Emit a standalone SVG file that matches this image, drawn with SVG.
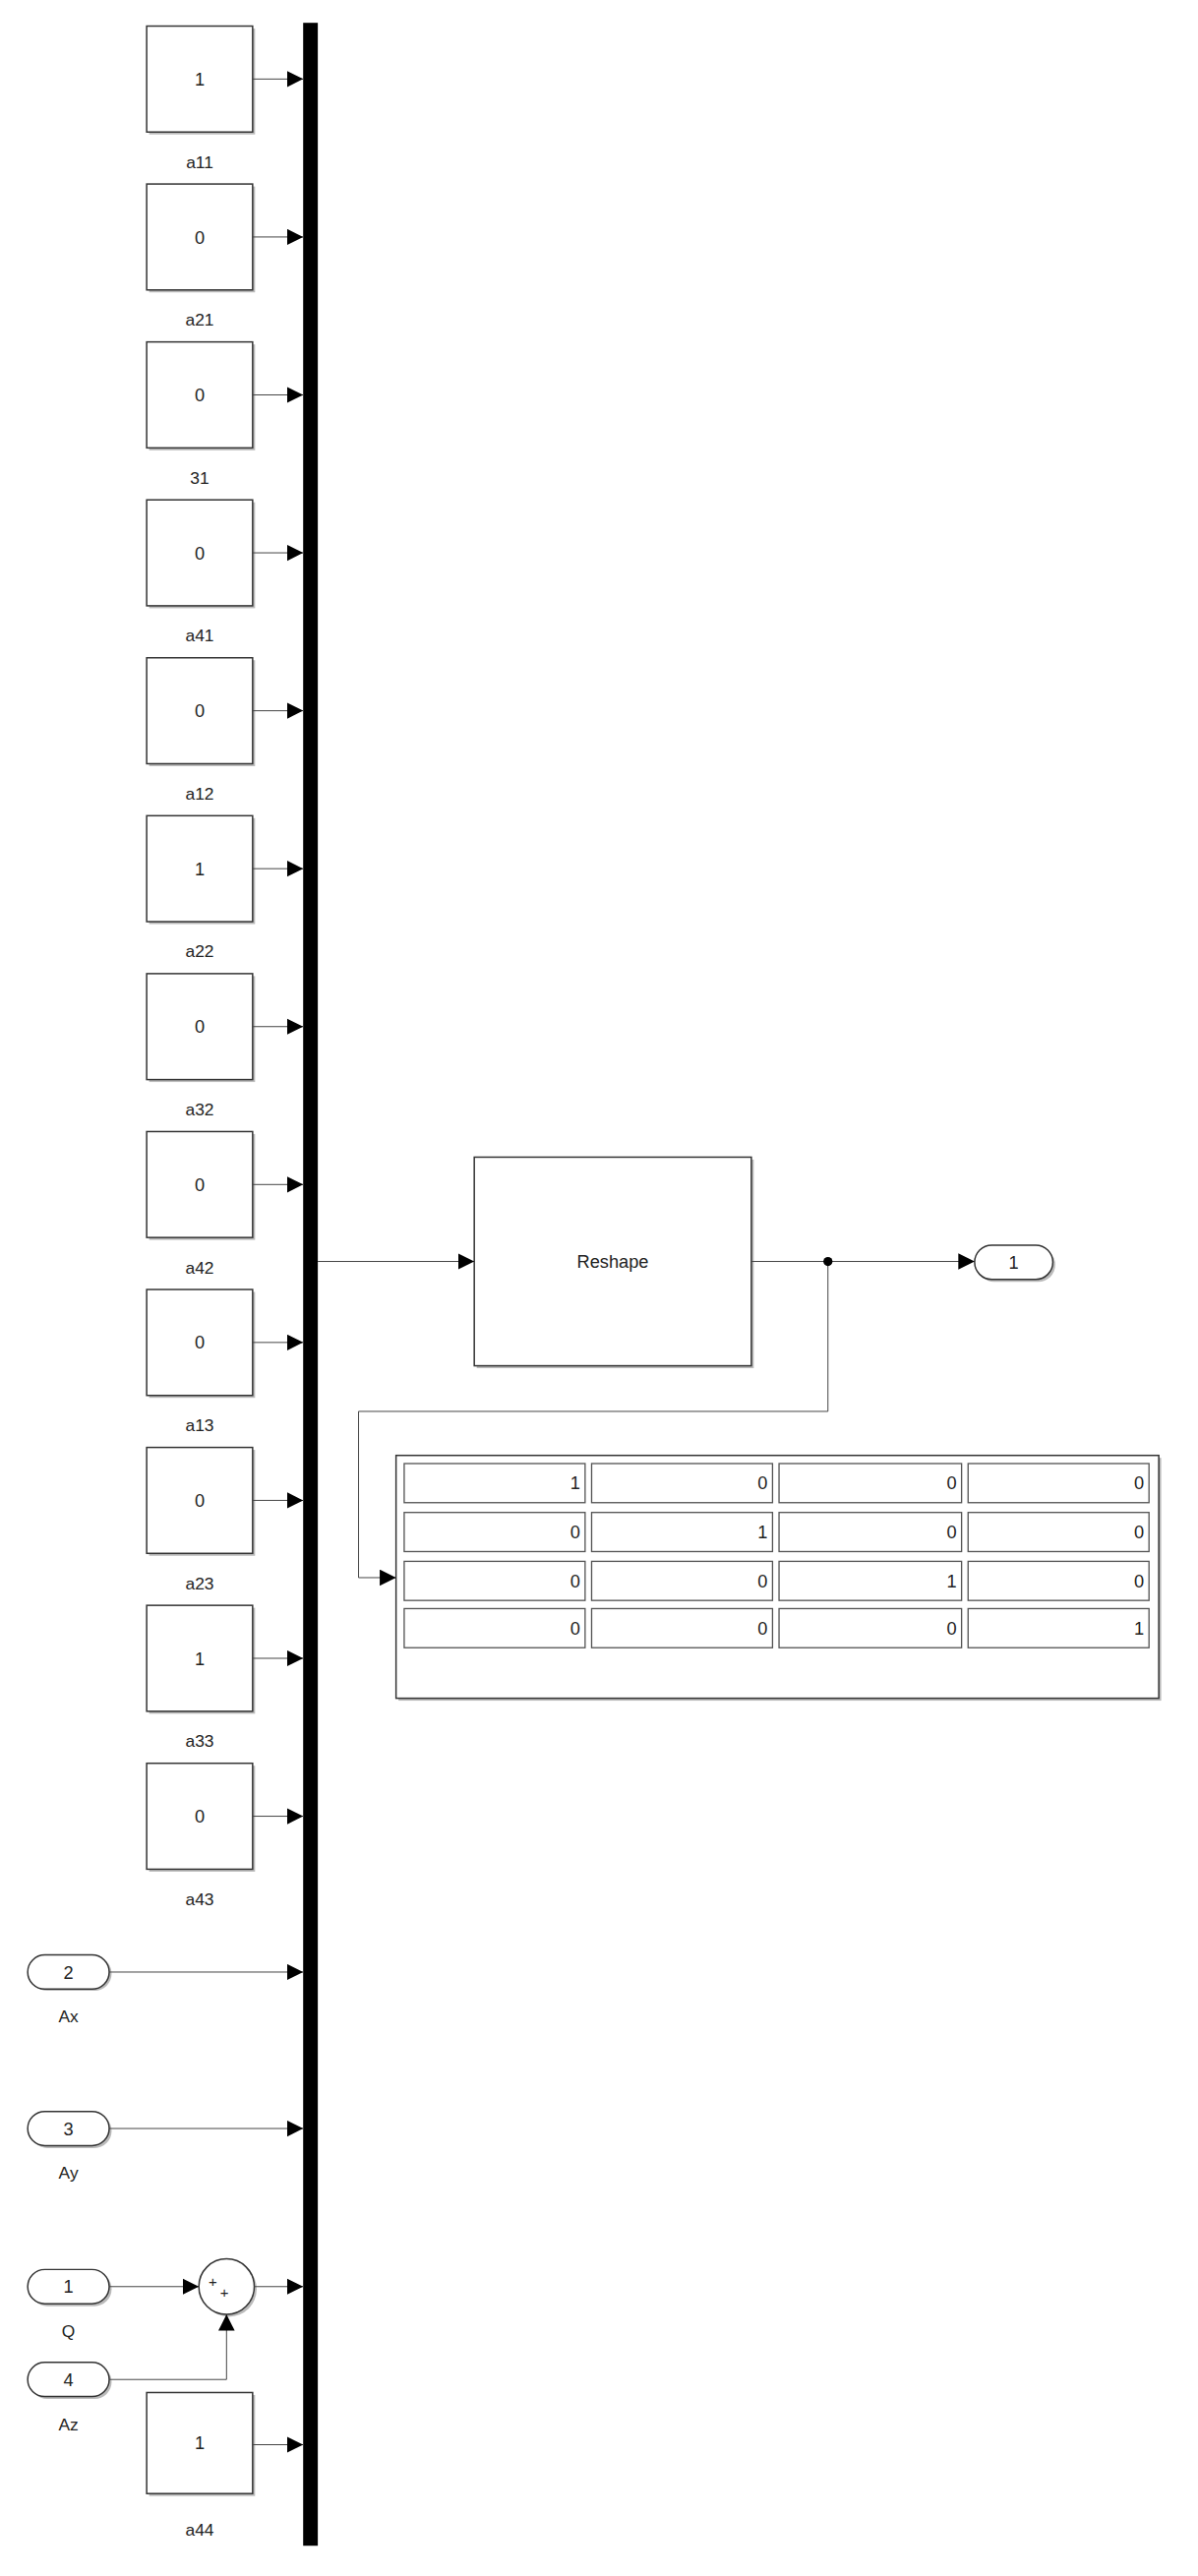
<svg xmlns="http://www.w3.org/2000/svg" width="1218" height="2619" viewBox="0 0 1218 2619">
<style>
text{font-family:"Liberation Sans",Arial,sans-serif;fill:#222}
.blk{fill:#fff;stroke:#333;stroke-width:0.9}
.sh{fill:#bbb}
.ln{fill:none;stroke:#444;stroke-width:0.6}
.v{font-size:11px;text-anchor:middle}
.lb{font-size:10.5px;text-anchor:middle}
.cell{fill:#fff;stroke:#555;stroke-width:0.8}
.cv{font-size:11px;text-anchor:end}
</style>
<defs>
<marker id="ar" markerUnits="userSpaceOnUse" markerWidth="11" markerHeight="11" refX="10" refY="5" orient="auto"><path d="M0,0 L10,5 L0,10 Z" fill="#000"/></marker>
<g id="cb"><rect class="sh" x="1.5" y="1.5" width="65" height="65"/><rect class="blk" x="0" y="0" width="65" height="65"/></g>
</defs>
<rect width="1218" height="2619" fill="#fff"/>
<g transform="scale(1.657)">
<g id="bus"><rect x="186" y="14" width="9" height="1548" fill="#000"/></g>
<g id="a11"><use href="#cb" x="90" y="16"/><text class="v" x="122.5" y="52.5">1</text><text class="lb" x="122.5" y="103">a11</text></g>
<g id="a21"><use href="#cb" x="90" y="112.9"/><text class="v" x="122.5" y="149.4">0</text><text class="lb" x="122.5" y="199.9">a21</text></g>
<g id="c31"><use href="#cb" x="90" y="209.8"/><text class="v" x="122.5" y="246.3">0</text><text class="lb" x="122.5" y="296.8">31</text></g>
<g id="a41"><use href="#cb" x="90" y="306.7"/><text class="v" x="122.5" y="343.2">0</text><text class="lb" x="122.5" y="393.7">a41</text></g>
<g id="a12"><use href="#cb" x="90" y="403.6"/><text class="v" x="122.5" y="440.1">0</text><text class="lb" x="122.5" y="490.6">a12</text></g>
<g id="a22"><use href="#cb" x="90" y="500.5"/><text class="v" x="122.5" y="537">1</text><text class="lb" x="122.5" y="587.5">a22</text></g>
<g id="a32"><use href="#cb" x="90" y="597.4"/><text class="v" x="122.5" y="633.9">0</text><text class="lb" x="122.5" y="684.4">a32</text></g>
<g id="a42"><use href="#cb" x="90" y="694.3"/><text class="v" x="122.5" y="730.8">0</text><text class="lb" x="122.5" y="781.3">a42</text></g>
<g id="a13"><use href="#cb" x="90" y="791.2"/><text class="v" x="122.5" y="827.7">0</text><text class="lb" x="122.5" y="878.2">a13</text></g>
<g id="a23"><use href="#cb" x="90" y="888.1"/><text class="v" x="122.5" y="924.6">0</text><text class="lb" x="122.5" y="975.1">a23</text></g>
<g id="a33"><use href="#cb" x="90" y="985"/><text class="v" x="122.5" y="1021.5">1</text><text class="lb" x="122.5" y="1072">a33</text></g>
<g id="a43"><use href="#cb" x="90" y="1081.9"/><text class="v" x="122.5" y="1118.4">0</text><text class="lb" x="122.5" y="1168.9">a43</text></g>
<g id="a44"><rect class="sh" x="91.5" y="1469.5" width="65" height="62"/><rect class="blk" x="90" y="1468" width="65" height="62"/><text class="v" x="122.5" y="1503">1</text><text class="lb" x="122.5" y="1556">a44</text></g>
<g id="Ax"><rect class="sh" x="18.5" y="1200.5" width="50" height="21" rx="10.5"/><rect class="blk" x="17" y="1199.5" width="50" height="21" rx="10.5"/><text class="v" x="42" y="1214">2</text><text class="lb" x="42" y="1241">Ax</text></g>
<g id="Ay"><rect class="sh" x="18.5" y="1297" width="50" height="21" rx="10.5"/><rect class="blk" x="17" y="1295.5" width="50" height="21" rx="10.5"/><text class="v" x="42" y="1310">3</text><text class="lb" x="42" y="1337">Ay</text></g>
<g id="Q"><rect class="sh" x="18.5" y="1394" width="50" height="21" rx="10.5"/><rect class="blk" x="17" y="1392.5" width="50" height="21" rx="10.5"/><text class="v" x="42" y="1407">1</text><text class="lb" x="42" y="1434">Q</text></g>
<g id="Az"><rect class="sh" x="18.5" y="1451" width="50" height="21" rx="10.5"/><rect class="blk" x="17" y="1449.5" width="50" height="21" rx="10.5"/><text class="v" x="42" y="1464">4</text><text class="lb" x="42" y="1491">Az</text></g>
<g id="sum"><circle cx="140.5" cy="1404.5" r="17" class="sh"/><circle cx="139" cy="1403" r="17" class="blk"/><text x="128" y="1403" font-size="9">+</text><text x="135" y="1410" font-size="9">+</text></g>
<g id="reshape"><rect class="sh" x="292.5" y="711.5" width="170" height="128"/><rect class="blk" x="291" y="710" width="170" height="128"/><text class="v" x="376" y="778">Reshape</text></g>
<g id="out1"><rect class="sh" x="599.5" y="765.5" width="48" height="21" rx="10.5"/><rect class="blk" x="598" y="764" width="48" height="21" rx="10.5"/><text class="v" x="622" y="778.5">1</text></g>
<g id="display">
<rect class="sh" x="244.5" y="894.5" width="468" height="149"/><rect class="blk" x="243" y="893" width="468" height="149"/>
<g>
<rect class="cell" x="248" y="898" width="111" height="24"/><rect class="cell" x="363" y="898" width="111" height="24"/><rect class="cell" x="478" y="898" width="112" height="24"/><rect class="cell" x="594" y="898" width="111" height="24"/>
<rect class="cell" x="248" y="928" width="111" height="24"/><rect class="cell" x="363" y="928" width="111" height="24"/><rect class="cell" x="478" y="928" width="112" height="24"/><rect class="cell" x="594" y="928" width="111" height="24"/>
<rect class="cell" x="248" y="958" width="111" height="24"/><rect class="cell" x="363" y="958" width="111" height="24"/><rect class="cell" x="478" y="958" width="112" height="24"/><rect class="cell" x="594" y="958" width="111" height="24"/>
<rect class="cell" x="248" y="987" width="111" height="24"/><rect class="cell" x="363" y="987" width="111" height="24"/><rect class="cell" x="478" y="987" width="112" height="24"/><rect class="cell" x="594" y="987" width="111" height="24"/>
</g>
<text class="cv" x="356" y="914">1</text><text class="cv" x="471" y="914">0</text><text class="cv" x="587" y="914">0</text><text class="cv" x="702" y="914">0</text>
<text class="cv" x="356" y="944">0</text><text class="cv" x="471" y="944">1</text><text class="cv" x="587" y="944">0</text><text class="cv" x="702" y="944">0</text>
<text class="cv" x="356" y="974">0</text><text class="cv" x="471" y="974">0</text><text class="cv" x="587" y="974">1</text><text class="cv" x="702" y="974">0</text>
<text class="cv" x="356" y="1003">0</text><text class="cv" x="471" y="1003">0</text><text class="cv" x="587" y="1003">0</text><text class="cv" x="702" y="1003">1</text>
</g>
<g id="connectors" class="ln" marker-end="url(#ar)">
<path class="ln" marker-end="url(#ar)" d="M155,48.5H186"/>
<path class="ln" marker-end="url(#ar)" d="M155,145.4H186"/>
<path class="ln" marker-end="url(#ar)" d="M155,242.3H186"/>
<path class="ln" marker-end="url(#ar)" d="M155,339.2H186"/>
<path class="ln" marker-end="url(#ar)" d="M155,436.1H186"/>
<path class="ln" marker-end="url(#ar)" d="M155,533H186"/>
<path class="ln" marker-end="url(#ar)" d="M155,629.9H186"/>
<path class="ln" marker-end="url(#ar)" d="M155,726.8H186"/>
<path class="ln" marker-end="url(#ar)" d="M155,823.7H186"/>
<path class="ln" marker-end="url(#ar)" d="M155,920.6H186"/>
<path class="ln" marker-end="url(#ar)" d="M155,1017.5H186"/>
<path class="ln" marker-end="url(#ar)" d="M155,1114.4H186"/>
<path class="ln" marker-end="url(#ar)" d="M67,1210H186"/>
<path class="ln" marker-end="url(#ar)" d="M67,1306H186"/>
<path class="ln" marker-end="url(#ar)" d="M67,1403H122"/>
<path class="ln" marker-end="url(#ar)" d="M67,1460H139V1420"/>
<path class="ln" marker-end="url(#ar)" d="M156,1403H186"/>
<path class="ln" marker-end="url(#ar)" d="M155,1500H186"/>
<path class="ln" marker-end="url(#ar)" d="M195,774H291"/>
<path class="ln" marker-end="url(#ar)" d="M461,774H598"/>
<path class="ln" marker-end="url(#ar)" d="M508,774V866H220V968H243"/>
</g>
<circle id="junction" cx="508" cy="774" r="2.8" fill="#000"/>
</g>
</svg>
